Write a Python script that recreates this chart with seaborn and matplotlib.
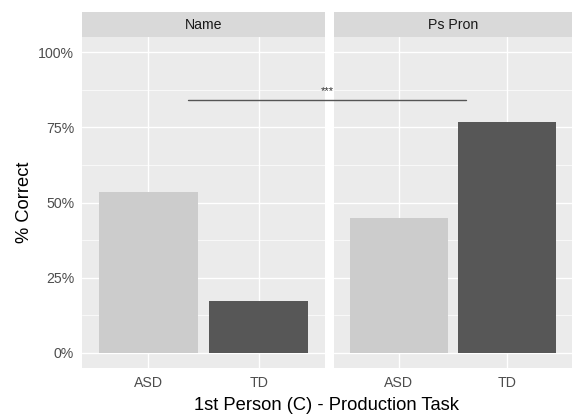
import matplotlib
matplotlib.use("Agg")
import matplotlib.pyplot as plt
import matplotlib.transforms as mtransforms
from matplotlib.patches import Rectangle
import seaborn as sns
import pandas as pd

# Data
facets = ["Name", "Ps Pron"]
groups = ["ASD", "TD"]
name_vals = [0.536, 0.174]
pspron_vals = [0.447, 0.769]
y_ticks = [0, 0.25, 0.5, 0.75, 1.0]
y_ticklabels = ["0%", "25%", "50%", "75%", "100%"]
sig_label = "***"
sig_level = 0.84

df = pd.DataFrame({
    "facet": [facets[0]] * 2 + [facets[1]] * 2,
    "group": groups * 2,
    "correct": name_vals + pspron_vals,
})

sns.set_theme(style="white")
plt.rcParams["font.family"] = ["Liberation Sans", "DejaVu Sans"]

W, H = 574, 417
fig = plt.figure(figsize=(W / 100, H / 100), dpi=100)

panel_bg = "#EBEBEB"
strip_bg = "#D9D9D9"
palette = {"ASD": "#CCCCCC", "TD": "#575757"}
tick_fs = 10.2
title_fs = 13.2

def fx(px):
    return px / W

def fy(py):
    return 1 - py / H

panels = [(82, 325), (334, 572)]
top, bottom = 37, 368
strip_top = 12

axes = []
for i, (facet, (l, r)) in enumerate(zip(facets, panels)):
    ax = fig.add_axes([fx(l), fy(bottom), fx(r) - fx(l), fy(top) - fy(bottom)])
    ax.set_facecolor(panel_bg)
    sub = df[df["facet"] == facet]
    sns.barplot(data=sub, x="group", y="correct", hue="group", order=groups,
                palette=palette, width=0.9, legend=False, ax=ax,
                errorbar=None, linewidth=0, zorder=3)
    ax.set_xlim(-0.6, 1.6)
    ax.set_ylim(-0.05, 1.05)
    ax.set_yticks(y_ticks)
    ax.set_yticks([0.125, 0.375, 0.625, 0.875], minor=True)
    ax.grid(True, which="major", color="white", linewidth=1.0, zorder=0)
    ax.grid(True, which="minor", axis="y", color="white", linewidth=0.5, zorder=0)
    ax.set_axisbelow(True)
    for s in ax.spines.values():
        s.set_visible(False)
    ax.tick_params(axis="x", which="major", length=3.7, width=0.8, color="#333333",
                   labelsize=tick_fs, labelcolor="#4D4D4D", pad=2)
    ax.tick_params(axis="y", which="minor", length=0)
    if i == 0:
        ax.set_yticklabels(y_ticklabels)
        ax.tick_params(axis="y", which="major", length=3.7, width=0.8, color="#333333",
                       labelsize=tick_fs, labelcolor="#4D4D4D", pad=2)
        ax.set_ylabel("% Correct", fontsize=title_fs, color="black", labelpad=4)
    else:
        ax.tick_params(axis="y", which="major", length=0, labelleft=False)
        ax.set_ylabel("")
    ax.set_xlabel("")
    # facet strip
    fig.patches.append(Rectangle((fx(l), fy(top)), fx(r) - fx(l), fy(strip_top) - fy(top),
                                 transform=fig.transFigure, facecolor=strip_bg,
                                 edgecolor="none", zorder=0))
    fig.text((fx(l) + fx(r)) / 2, (fy(top) + fy(strip_top)) / 2, facet,
             ha="center", va="center", fontsize=tick_fs, color="#1A1A1A")
    axes.append(ax)

# significance bracket spanning both facets
trans = mtransforms.blended_transform_factory(fig.transFigure, axes[0].transData)
fig.add_artist(plt.Line2D([fx(188), fx(466)], [sig_level, sig_level], transform=trans,
                          color="#555555", linewidth=1.0, zorder=5))
axes[0].text(fx(327), sig_level + 0.015, sig_label, transform=trans,
             ha="center", va="bottom", fontsize=8, color="#333333", clip_on=False)

fig.text((fx(82) + fx(572)) / 2, fy(406), "1st Person (C) - Production Task",
         ha="center", va="center", fontsize=title_fs, color="black")

fig.savefig("out.png", dpi=100, facecolor="white")
